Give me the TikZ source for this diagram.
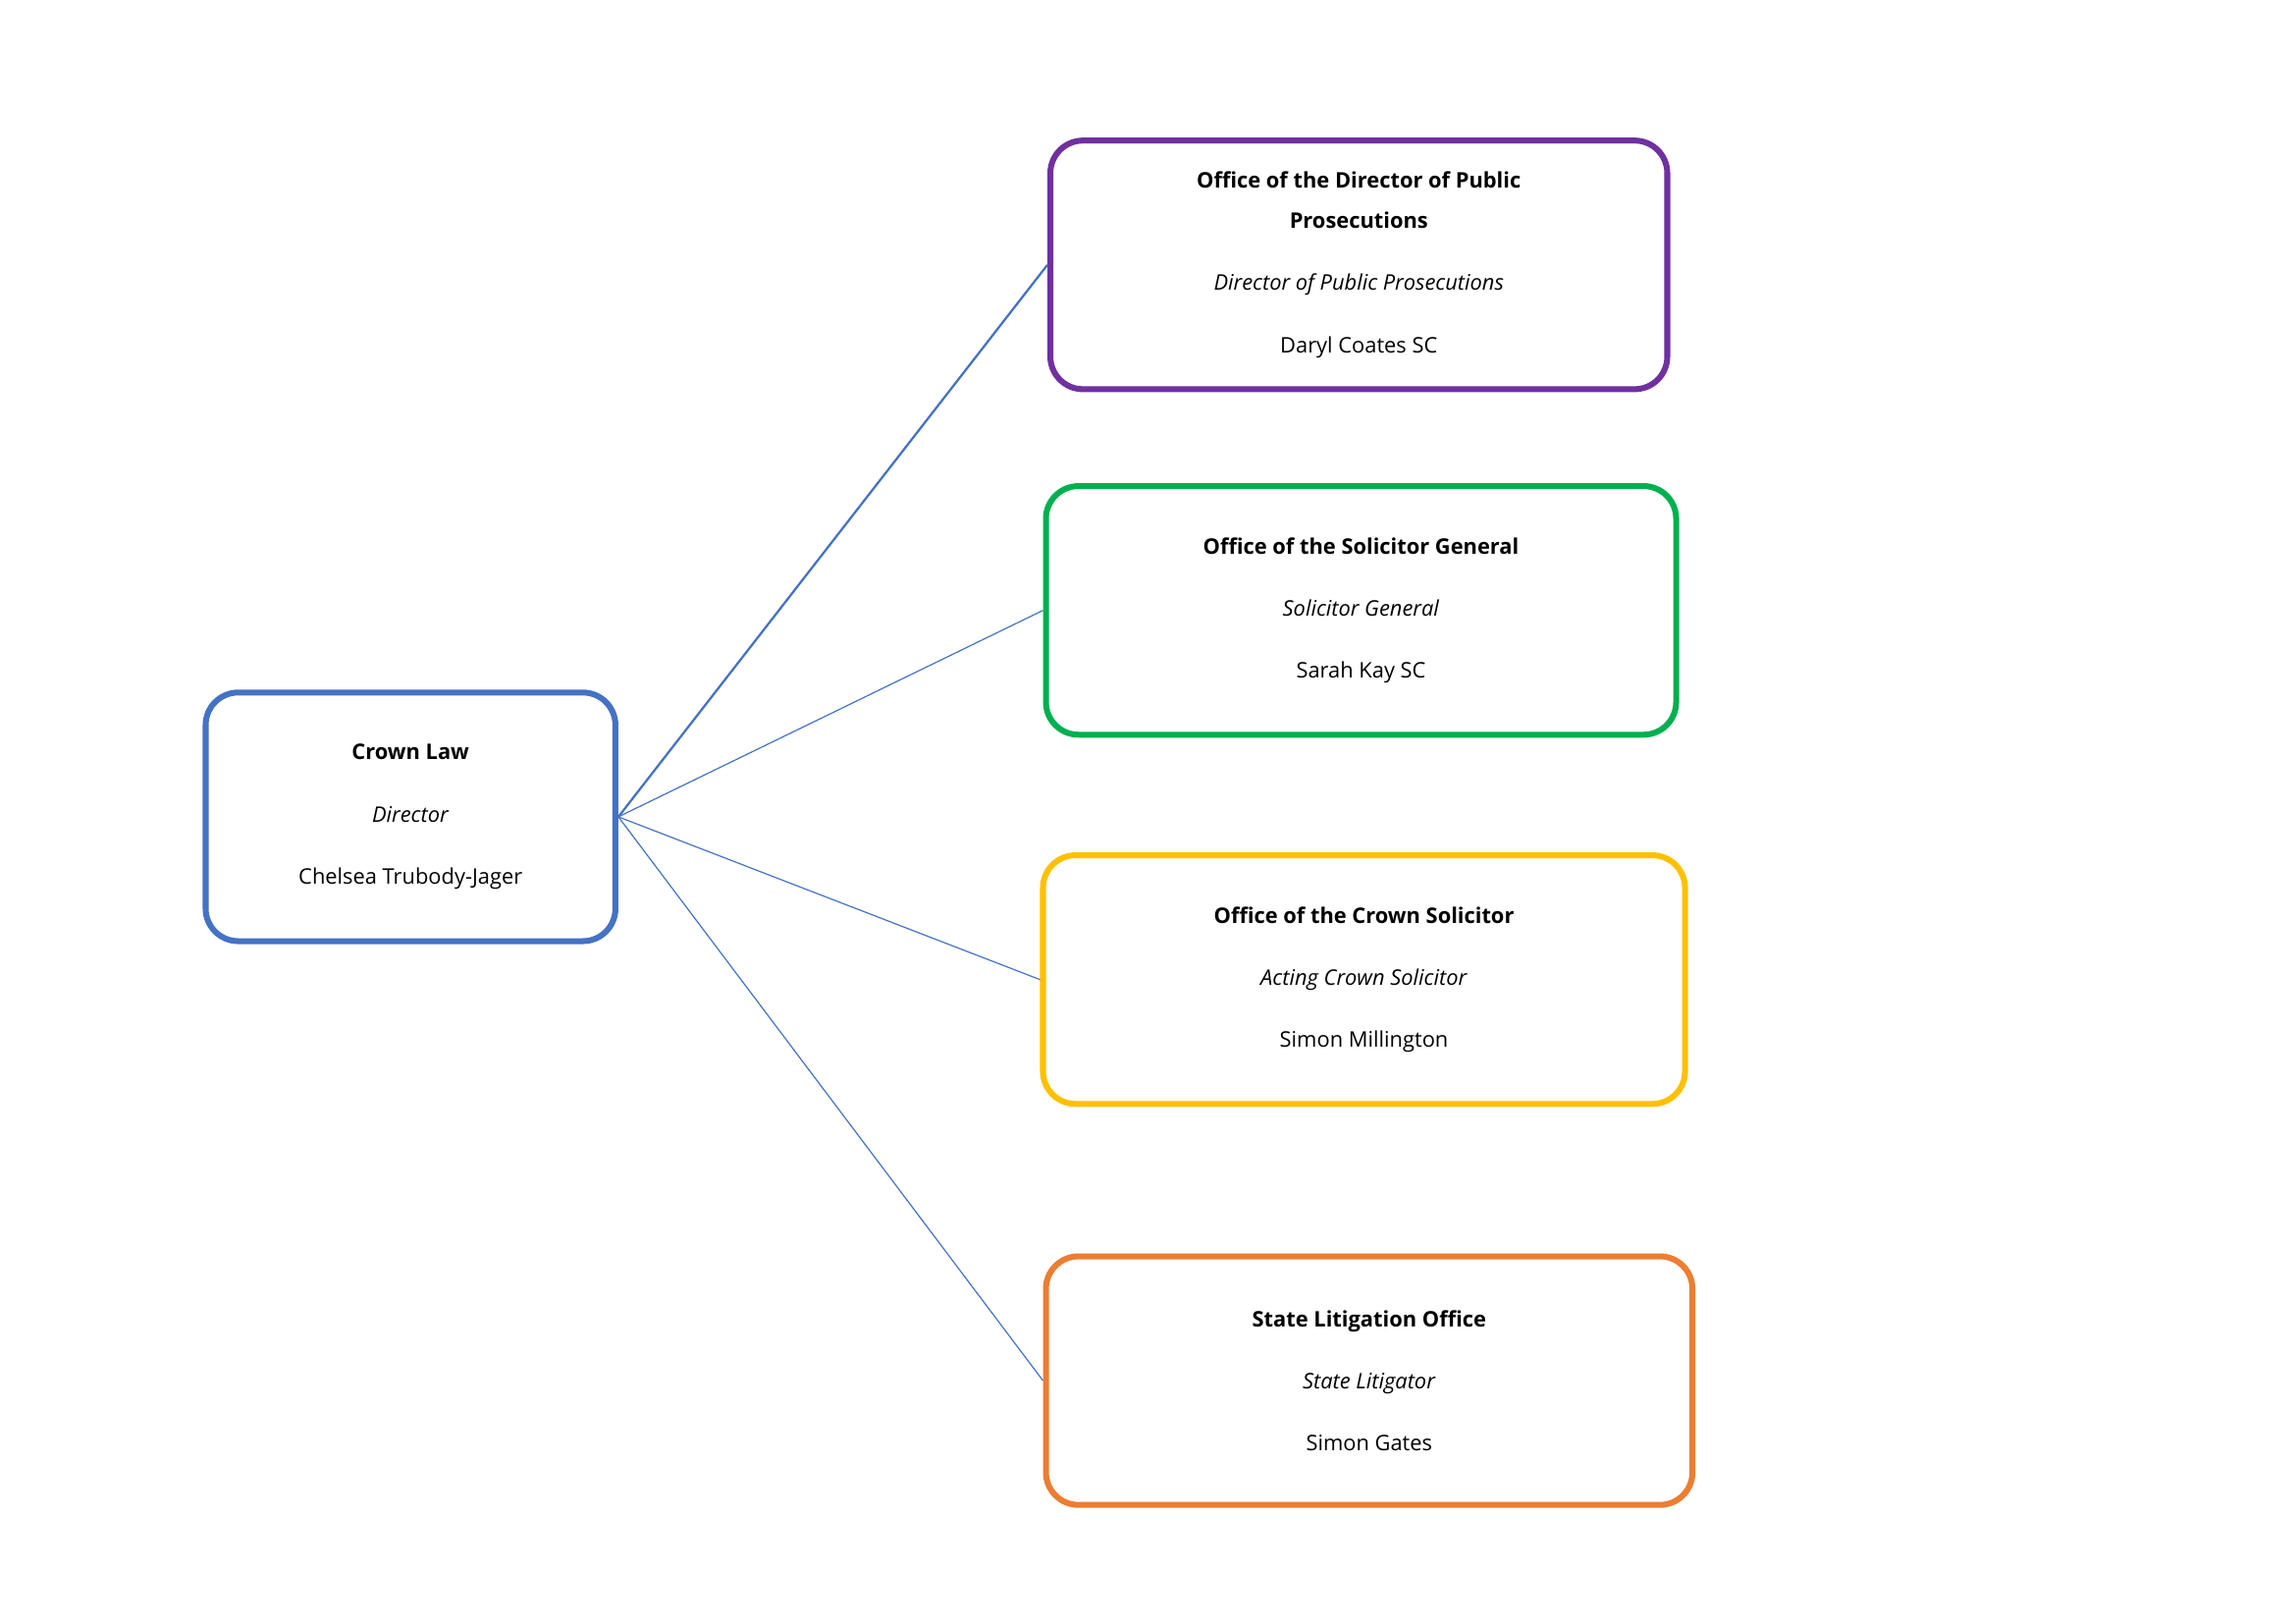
\documentclass[tikz,border=0pt]{standalone}
\usepackage{fontspec}
\setmainfont{Open Sans}
\usetikzlibrary{positioning}
\definecolor{lawblue}{HTML}{4472C4}
\definecolor{dpppurple}{HTML}{7030A0}
\definecolor{sggreen}{HTML}{00B050}
\definecolor{csyellow}{HTML}{FFC000}
\definecolor{sloorange}{HTML}{ED7D31}
\tikzset{
   mybox/.style={draw, line width=4pt, rounded corners=22pt, minimum height=168pt, align=center,
                 font=\fontsize{14.5}{27}\selectfont},
   myline/.style={draw=lawblue, line width=0.8pt}
}
\newcommand{\gap}{\\[15pt]}
\begin{document}
\begin{tikzpicture}[x=1pt,y=-1pt]
   \useasboundingbox (0,0) rectangle (1552,1097);
   \node[mybox, draw=lawblue, minimum width=277pt] (crown) at (277.5,552)
      {\textbf{Crown Law}\gap\textit{Director}\gap Chelsea Trubody-Jager};
   \node[mybox, draw=dpppurple, minimum width=417pt] (dpp) at (918.5,179)
      {\textbf{Office of the Director of Public}\\\textbf{Prosecutions}\gap\textit{Director of Public Prosecutions}\gap Daryl Coates SC};
   \node[mybox, draw=sggreen, minimum width=426pt] (sg) at (920,412.5)
      {\textbf{Office of the Solicitor General}\gap\textit{Solicitor General}\gap Sarah Kay SC};
   \node[mybox, draw=csyellow, minimum width=434pt] (cs) at (922,662)
      {\textbf{Office of the Crown Solicitor}\gap\textit{Acting Crown Solicitor}\gap Simon Millington};
   \node[mybox, draw=sloorange, minimum width=437pt] (slo) at (925.5,933)
      {\textbf{State Litigation Office}\gap\textit{State Litigator}\gap Simon Gates};
   \path[myline, line width=1.5pt] (crown.east) -- (dpp.west);
   \path[myline] (crown.east) -- (sg.west);
   \path[myline] (crown.east) -- (cs.west);
   \path[myline] (crown.east) -- (slo.west);
\end{tikzpicture}
\end{document}
